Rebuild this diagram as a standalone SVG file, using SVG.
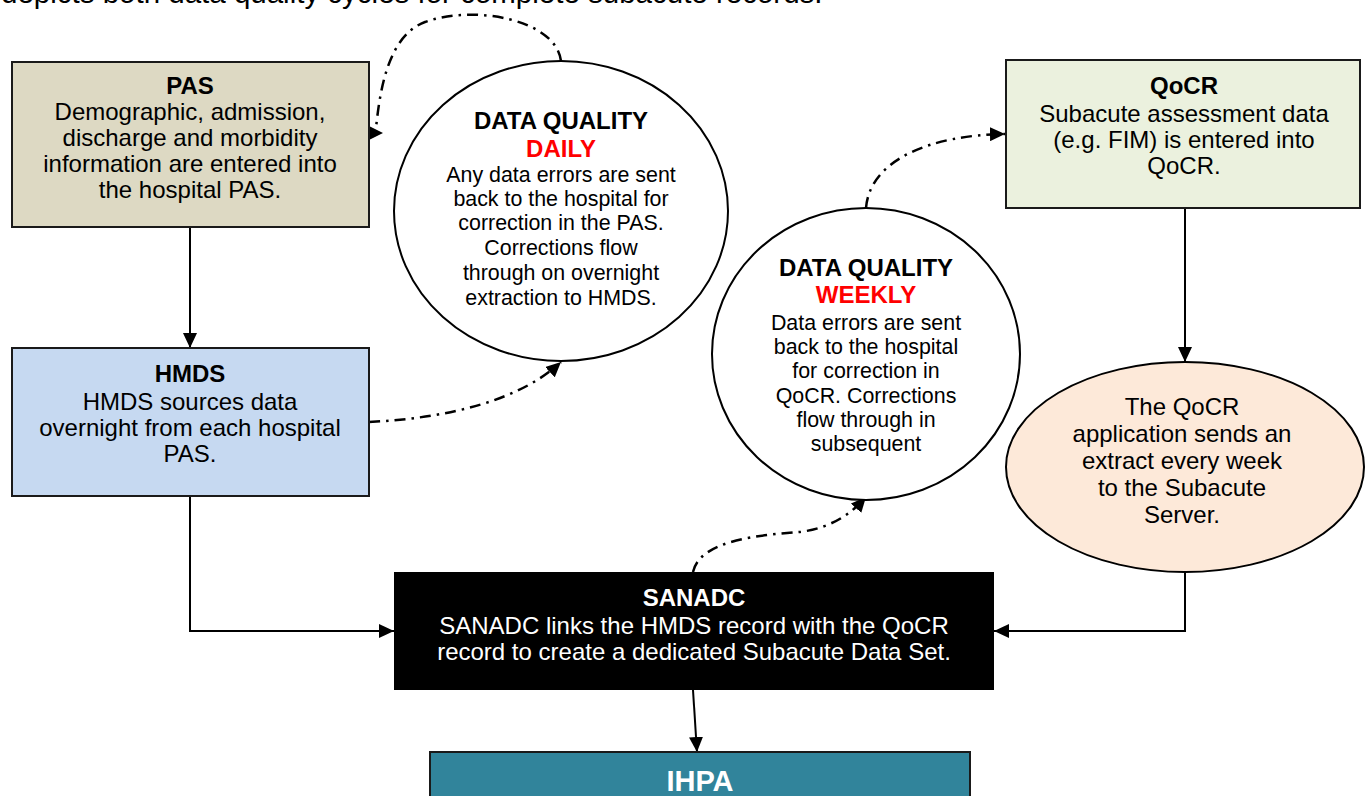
<svg xmlns="http://www.w3.org/2000/svg" width="1366" height="796" viewBox="0 0 1366 796">
<defs>
<style>
text{font-family:"Liberation Sans",Arial,sans-serif;text-anchor:middle;fill:#000}
.t{font-weight:bold;font-size:24px}
.b{font-size:24px}
.cb{font-size:21.4px}
.red{fill:#ff0000}
.w{fill:#fff}
.box{stroke:#1a1a1a;stroke-width:2}
.ell{fill:#fff;stroke:#000;stroke-width:2}
.solid{fill:none;stroke:#000;stroke-width:2}
.dd{fill:none;stroke:#000;stroke-width:2.5;stroke-dasharray:11 6 2.5 6}
</style>
<marker id="ah" markerUnits="userSpaceOnUse" markerWidth="16" markerHeight="14" refX="15" refY="7" orient="auto">
<path d="M0,0 L15,7 L0,14 Z" fill="#000"/>
</marker>
</defs>
<rect width="1366" height="796" fill="#fff"/>
<text x="1" y="3" font-size="29.5" style="text-anchor:start">depicts both data quality cycles for complete subacute records.</text>

<g id="connectors">
<path class="solid" d="M190,227 L190,348" marker-end="url(#ah)"/>
<path class="solid" d="M1185,208 L1185,362" marker-end="url(#ah)"/>
<path class="solid" d="M190,496 L190,631 L394,631" marker-end="url(#ah)"/>
<path class="solid" d="M1185,573 L1185,631 L994,631" marker-end="url(#ah)"/>
<path class="solid" d="M693,690 L697,752" marker-end="url(#ah)"/>
<path class="dd" d="M561,61 C556,20 475,4 425,22 C388,36 380,90 376,128"/>
<polygon points="369,126 383,133 369,140" fill="#000"/>
<path class="dd" d="M369,422 C450,418 520,400 561,362" marker-end="url(#ah)"/>
<path class="dd" d="M866,208 C870,160 930,135 1005,134" marker-end="url(#ah)"/>
<path class="dd" d="M693,572 C700,540 760,535 800,532 C830,528 850,515 866,497" marker-end="url(#ah)"/>
</g>

<g id="pas">
<rect class="box" x="12" y="62" width="357" height="165" fill="#ddd9c3"/>
<text class="t" x="190" y="94">PAS</text>
<text class="b" x="190" y="120">Demographic, admission,</text>
<text class="b" x="190" y="146">discharge and morbidity</text>
<text class="b" x="190" y="172">information are entered into</text>
<text class="b" x="190" y="198">the hospital PAS.</text>
</g>

<g id="hmds">
<rect class="box" x="12" y="348" width="357" height="148" fill="#c6d9f1"/>
<text class="t" x="190" y="382">HMDS</text>
<text class="b" x="190" y="410">HMDS sources data</text>
<text class="b" x="190" y="436">overnight from each hospital</text>
<text class="b" x="190" y="462">PAS.</text>
</g>

<g id="qocr">
<rect class="box" x="1006" y="60" width="354" height="148" fill="#ebf1de"/>
<text class="t" x="1184" y="94">QoCR</text>
<text class="b" x="1184" y="122">Subacute assessment data</text>
<text class="b" x="1184" y="148">(e.g. FIM) is entered into</text>
<text class="b" x="1184" y="174">QoCR.</text>
</g>

<g id="dq-daily">
<ellipse class="ell" cx="561" cy="211" rx="167" ry="150"/>
<text class="t" x="561" y="129">DATA QUALITY</text>
<text class="t red" x="561" y="157">DAILY</text>
<text class="cb" x="561" y="182">Any data errors are sent</text>
<text class="cb" x="561" y="206">back to the hospital for</text>
<text class="cb" x="561" y="230">correction in the PAS.</text>
<text class="cb" x="561" y="255">Corrections flow</text>
<text class="cb" x="561" y="280">through on overnight</text>
<text class="cb" x="561" y="305">extraction to HMDS.</text>
</g>

<g id="dq-weekly">
<ellipse class="ell" cx="866" cy="354" rx="154" ry="146"/>
<text class="t" x="866" y="276">DATA QUALITY</text>
<text class="t red" x="866" y="303">WEEKLY</text>
<text class="cb" x="866" y="330">Data errors are sent</text>
<text class="cb" x="866" y="354">back to the hospital</text>
<text class="cb" x="866" y="378">for correction in</text>
<text class="cb" x="866" y="403">QoCR. Corrections</text>
<text class="cb" x="866" y="427">flow through in</text>
<text class="cb" x="866" y="451">subsequent</text>
</g>

<g id="extract">
<ellipse cx="1185" cy="467" rx="179" ry="105" fill="#fde9d9" stroke="#000" stroke-width="2"/>
<text class="b" x="1182" y="415">The QoCR</text>
<text class="b" x="1182" y="442">application sends an</text>
<text class="b" x="1182" y="469">extract every week</text>
<text class="b" x="1182" y="496">to the Subacute</text>
<text class="b" x="1182" y="523">Server.</text>
</g>

<g id="sanadc">
<rect x="394" y="572" width="600" height="118" fill="#000"/>
<text class="t w" x="694" y="606">SANADC</text>
<text class="b w" x="694" y="634">SANADC links the HMDS record with the QoCR</text>
<text class="b w" x="694" y="660">record to create a dedicated Subacute Data Set.</text>
</g>

<g id="ihpa">
<rect x="430" y="752" width="540" height="60" fill="#31849b" stroke="#1a1a1a" stroke-width="2"/>
<text class="w" x="700" y="791" font-size="29" font-weight="bold">IHPA</text>
</g>
</svg>
